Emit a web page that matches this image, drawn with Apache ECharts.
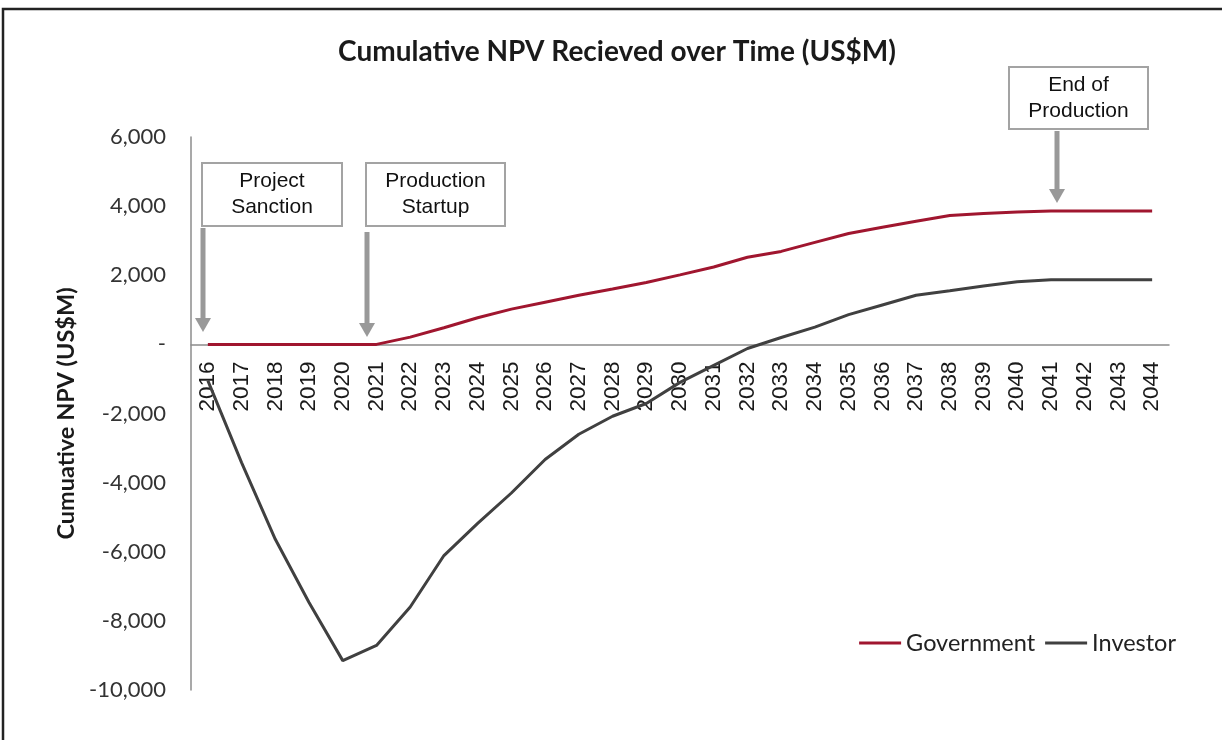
<!DOCTYPE html>
<html>
<head>
<meta charset="utf-8">
<script src="https://cdn.jsdelivr.net/npm/echarts@6/dist/echarts.min.js"></script>
<style>
  html, body { margin: 0; padding: 0; background: #fff; }
  #chart { width: 1222px; height: 740px; }
</style>
</head>
<body>
<div id="chart"></div>
<script>
// ---- Data ----
const years = ['2016','2017','2018','2019','2020','2021','2022','2023','2024','2025','2026','2027','2028','2029','2030','2031','2032','2033','2034','2035','2036','2037','2038','2039','2040','2041','2042','2043','2044'];
const government = [0,0,0,0,0,0,210,480,770,1020,1220,1420,1600,1790,2010,2240,2520,2690,2950,3210,3390,3560,3730,3790,3830,3860,3860,3860,3860];
const investor = [-1050,-3420,-5640,-7470,-9150,-8710,-7600,-6110,-5180,-4300,-3330,-2600,-2080,-1710,-1100,-610,-120,200,500,860,1140,1420,1550,1690,1810,1870,1870,1870,1870];
const seriesNames = ['Government', 'Investor'];
const titleText = 'Cumulative NPV Recieved over Time (US$M)';
const yAxisTitle = 'Cumuative NPV (US$M)';
const annotationTexts = ['Project\nSanction', 'Production\nStartup', 'End of\nProduction'];

// ---- Chart ----
const chart = echarts.init(document.getElementById('chart'));

function box(x, y, w, h, text) {
  return [
    { type: 'rect', shape: { x: x, y: y, width: w, height: h },
      style: { fill: '#fff', stroke: '#a3a3a3', lineWidth: 2 }, z: 10 },
    { type: 'text', z: 11,
      style: { text: text, x: x + w / 2, y: y + h / 2,
        align: 'center', verticalAlign: 'middle',
        textAlign: 'center', textVerticalAlign: 'middle',
        fontFamily: 'Liberation Sans', fontSize: 21, lineHeight: 26, fill: '#111' } }
  ];
}
function arrow(x, y1, tip) {
  return [
    { type: 'line', z: 10, shape: { x1: x, y1: y1, x2: x, y2: tip - 12 },
      style: { stroke: '#999', lineWidth: 5 } },
    { type: 'polygon', z: 10, shape: { points: [[x - 8, tip - 14], [x + 8, tip - 14], [x, tip]] },
      style: { fill: '#999' } }
  ];
}

const graphics = [
  { type: 'rect', z: -10, silent: true, shape: { x: 3, y: 9, width: 1300, height: 800 },
    style: { fill: 'none', stroke: '#222', lineWidth: 2.5 } }
]
  .concat(box(202, 163, 140, 63, annotationTexts[0]))
  .concat(arrow(203, 228, 332))
  .concat(box(366, 163, 139, 63, annotationTexts[1]))
  .concat(arrow(367, 232, 337))
  .concat(box(1009, 67, 139, 62, annotationTexts[2]))
  .concat(arrow(1057, 131, 203));

const GRID_TOP = 137, GRID_BOTTOM = 50;

const option = {
  animation: false,
  backgroundColor: '#fff',
  title: {
    text: titleText,
    left: 612, top: 33, textAlign: 'center',
    textStyle: { fontFamily: 'Lato', fontWeight: 'bold', fontSize: 28, color: '#1a1a1a' }
  },
  grid: { left: 191, right: 53, top: GRID_TOP, bottom: GRID_BOTTOM, containLabel: false, outerBoundsMode: 'none' },
  legend: {
    data: seriesNames,
    right: 41, top: 626,
    icon: 'rect', itemWidth: 42, itemHeight: 3, itemGap: 10,
    textStyle: { fontFamily: 'Lato', fontSize: 23.5, color: '#222' }
  },
  xAxis: {
    type: 'category',
    data: years,
    boundaryGap: true,
    position: 'bottom',
    offset: 0,
    axisLine: { onZero: false, lineStyle: { color: '#8c8c8c', width: 1.5 } },
    axisTick: { show: false },
    splitLine: { show: false },
    axisLabel: { rotate: 90, interval: 0, margin: 17, fontFamily: 'Liberation Sans', fontSize: 22.5, color: '#1a1a1a' }
  },
  yAxis: {
    type: 'value',
    min: -10000, max: 6000, interval: 2000,
    splitLine: { show: false },
    axisLine: { show: true, onZero: false, lineStyle: { color: '#8c8c8c', width: 1.5 } },
    axisTick: { show: false },
    axisLabel: {
      margin: 25, fontFamily: 'Lato', fontSize: 22, color: '#333',
      formatter: function (v) { return v === 0 ? '-' : v.toLocaleString('en-US'); }
    },
    name: yAxisTitle,
    nameLocation: 'middle',
    nameGap: 112,
    nameTextStyle: { fontFamily: 'Lato', fontWeight: 'bold', fontSize: 23.5, color: '#1a1a1a' }
  },
  series: [
    { name: seriesNames[0], type: 'line', data: government, showSymbol: false, symbol: 'none',
      lineStyle: { color: '#a0162f', width: 3 }, itemStyle: { color: '#a0162f' }, z: 3 },
    { name: seriesNames[1], type: 'line', data: investor, showSymbol: false, symbol: 'none',
      lineStyle: { color: '#404040', width: 3 }, itemStyle: { color: '#404040' }, z: 3 }
  ],
  graphic: graphics
};
chart.setOption(option);

// Move the category axis (line + labels) up to the value-axis zero, as in the source chart
const zeroY = chart.convertToPixel({ yAxisIndex: 0 }, 0);
const bottomY = 740 - GRID_BOTTOM;
chart.setOption({ xAxis: { offset: -(bottomY - zeroY) } });
</script>
</body>
</html>
